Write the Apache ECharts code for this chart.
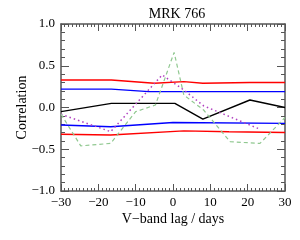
<!DOCTYPE html>
<html><head><meta charset="utf-8">
<script src="https://cdn.jsdelivr.net/npm/echarts@6/dist/echarts.min.js"></script>
<style>html,body{margin:0;padding:0;background:#fff}#c{width:300px;height:240px}</style>
</head><body><div id="c"></div>
<script>
const title = "MRK 766";
const xName = "V\u2212band lag / days";
const yName = "Correlation";
const xTicks = [-30, -20, -10, 0, 10, 20, 30];
const yTicks = [-1.0, -0.5, 0.0, 0.5, 1.0];

const blackLag = [-30, -16.5, 0.5, 8, 20.6, 30];
const blackVal = [-0.05, 0.05, 0.05, -0.14, 0.09, 0.0];

const greenLag = [-30, -24.7, -16.7, -10, -4.7, 0.3, 2.9, 8.2, 15.3, 23.3, 30];
const greenVal = [-0.08, -0.46, -0.43, -0.05, 0.03, 0.66, 0.15, -0.03, -0.41, -0.43, -0.12];

const magentaLag = [-30, -16.7, -2.9, 2.9, 8.2, 23.3];
const magentaVal = [-0.08, -0.29, 0.39, 0.21, 0.02, -0.26];

const redUpLag = [-30, -16.5, -5, 2.9, 8, 20.6, 30];
const redUpVal = [0.33, 0.33, 0.29, 0.31, 0.29, 0.30, 0.30];

const blueUpLag = [-30, -16.5, -6.5, 30];
const blueUpVal = [0.22, 0.22, 0.19, 0.19];

const blueLoLag = [-30, -16.7, 0, 30];
const blueLoVal = [-0.21, -0.23, -0.18, -0.19];

const redLoLag = [-30, -16.7, 2.9, 15, 30];
const redLoVal = [-0.32, -0.33, -0.28, -0.29, -0.30];

function pairs(a, b) { return a.map((x, i) => [x, b[i]]); }
const fam = "Liberation Serif, Times New Roman, serif";
const minus = s => String(s).replace('-', '\u2212');

function line(data, color, type, width) {
  return { type: 'line', data: data, showSymbol: false, symbol: 'none', silent: true,
    lineStyle: { color: color, width: width, type: type }, z: 3 };
}

const axisLine = { show: true, onZero: false, lineStyle: { color: '#555', width: 1.5 } };
const tickStyle = { color: '#555', width: 1 };

const chart = echarts.init(document.getElementById('c'), null, { renderer: 'canvas' });
chart.setOption({
  animation: false,
  backgroundColor: '#fff',
  title: { text: title, left: 172, top: 2, textAlign: 'center',
    textStyle: { fontFamily: fam, fontSize: 14, fontWeight: 'normal', color: '#000' } },
  grid: { left: 61, right: 15, top: 24, bottom: 49 },
  xAxis: [
    { type: 'value', min: -30, max: 30, interval: 10, position: 'bottom',
      name: xName, nameLocation: 'middle', nameGap: 21, nameMoveOverlap: false,
      nameTextStyle: { fontFamily: fam, fontSize: 14, color: '#000' },
      axisLine: axisLine,
      axisTick: { show: true, inside: true, length: 7, lineStyle: tickStyle },
      minorTick: { show: true, splitNumber: 10, length: 3, lineStyle: tickStyle },
      splitLine: { show: false },
      axisLabel: { fontFamily: fam, fontSize: 13, color: '#000', margin: 5,
        formatter: v => minus(v) } },
    { type: 'value', min: -30, max: 30, interval: 10, position: 'top',
      axisLine: axisLine,
      axisTick: { show: true, inside: true, length: 7, lineStyle: tickStyle },
      minorTick: { show: true, splitNumber: 10, length: 3, lineStyle: tickStyle },
      splitLine: { show: false }, axisLabel: { show: false } }
  ],
  yAxis: [
    { type: 'value', min: -1, max: 1, interval: 0.5, position: 'left',
      name: yName, nameLocation: 'middle', nameGap: 32, nameMoveOverlap: false,
      nameTextStyle: { fontFamily: fam, fontSize: 14, color: '#000' },
      axisLine: axisLine,
      axisTick: { show: true, inside: true, length: 8, lineStyle: tickStyle },
      minorTick: { show: true, splitNumber: 5, length: 4, lineStyle: tickStyle },
      splitLine: { show: false },
      axisLabel: { fontFamily: fam, fontSize: 13, color: '#000', margin: 6,
        formatter: v => minus(v.toFixed(1)) } },
    { type: 'value', min: -1, max: 1, interval: 0.5, position: 'right',
      axisLine: axisLine,
      axisTick: { show: true, inside: true, length: 8, lineStyle: tickStyle },
      minorTick: { show: true, splitNumber: 5, length: 4, lineStyle: tickStyle },
      splitLine: { show: false }, axisLabel: { show: false } }
  ],
  series: [
    line(pairs(redUpLag, redUpVal), '#ff0000', 'solid', 1.4),
    line(pairs(redLoLag, redLoVal), '#ff0000', 'solid', 1.4),
    line(pairs(blueUpLag, blueUpVal), '#0000ff', 'solid', 1.4),
    line(pairs(blueLoLag, blueLoVal), '#0000ff', 'solid', 1.4),
    line(pairs(blackLag, blackVal), '#000000', 'solid', 1.4),
    line(pairs(magentaLag, magentaVal), '#b040c0', [1.5, 3], 1.5),
    line(pairs(greenLag, greenVal), '#90c890', [4, 3], 1.2)
  ]
});
</script></body></html>
